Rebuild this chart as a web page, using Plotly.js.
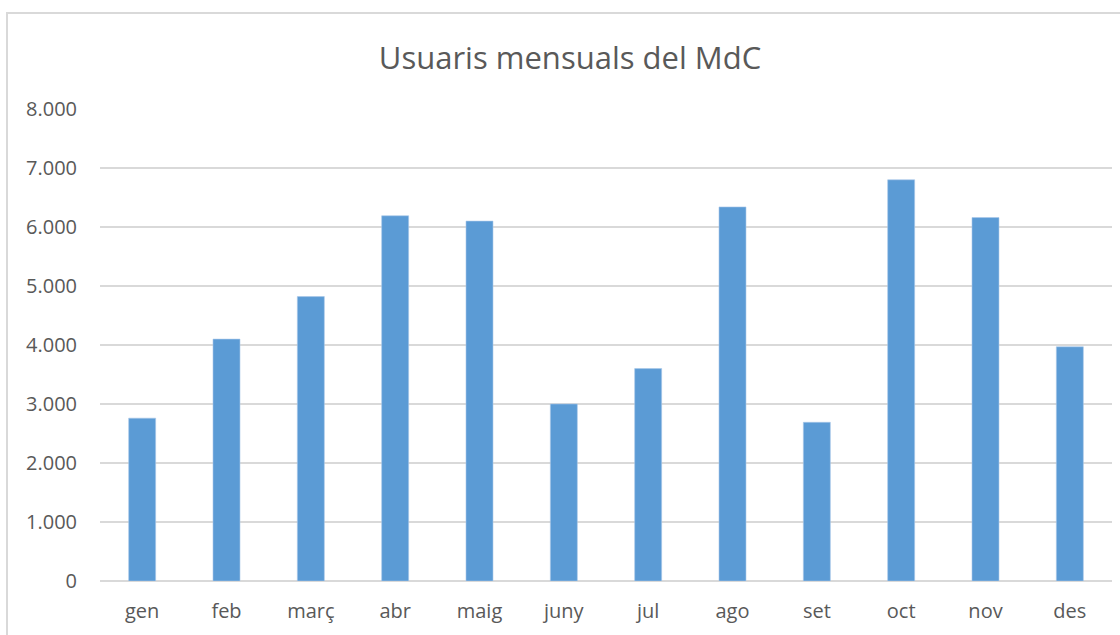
<!DOCTYPE html>
<html>
<head>
<meta charset="utf-8">
<script src="https://cdn.plot.ly/plotly-3.0.1.min.js"></script>
<style>
html,body{margin:0;padding:0;background:#fff;overflow:hidden;}
#wrap{position:relative;width:1120px;height:635px;}
#chart{position:absolute;left:0;top:0;width:1120px;height:635px;}
#frame{position:absolute;left:6px;top:12px;width:1200px;height:700px;border-left:2px solid #d9d9d9;border-top:2px solid #d9d9d9;pointer-events:none;}
</style>
</head>
<body>
<div id="wrap"><div id="chart"></div><div id="frame"></div></div>
<script>
const months = ["gen","feb","març","abr","maig","juny","jul","ago","set","oct","nov","des"];
const users = [2760, 4100, 4820, 6190, 6100, 3000, 3600, 6340, 2690, 6800, 6160, 3970];
const yTicks = [0,1000,2000,3000,4000,5000,6000,7000,8000];
const chartTitle = "Usuaris mensuals del MdC";

const trace = {
  type: "bar",
  x: months,
  y: users,
  marker: {color: "#5b9bd5", line: {color: "#a9c8ea", width: 0.6}},
  hoverinfo: "x+y"
};

const layout = {
  width: 1120, height: 635,
  paper_bgcolor: "rgba(0,0,0,0)",
  plot_bgcolor: "rgba(0,0,0,0)",
  separators: ",.",
  margin: {l: 100, r: 8, t: 109, b: 54},
  bargap: 0.68,
  showlegend: false,
  font: {family: "Open Sans, sans-serif", color: "#595959", size: 20},
  title: {
    text: chartTitle,
    font: {family: "Open Sans, sans-serif", size: 31, color: "#595959"},
    x: 570/1120, xref: "container", xanchor: "center",
    y: 1 - 58/635, yref: "container", yanchor: "middle"
  },
  xaxis: {
    type: "category",
    showgrid: false,
    showline: false,
    zeroline: false,
    ticks: "",
    ticklabelstandoff: 16,
    tickfont: {size: 20, color: "#595959"}
  },
  yaxis: {
    range: [0, 8000],
    tickvals: yTicks,
    tickformat: ",d",
    showgrid: true,
    gridcolor: "#d9d9d9",
    gridwidth: 2,
    zeroline: true,
    zerolinecolor: "#d9d9d9",
    zerolinewidth: 2,
    showline: false,
    ticks: "",
    ticklabelstandoff: 22,
    tickfont: {size: 20, color: "#595959"},
    fixedrange: true
  }
};

Plotly.newPlot("chart", [trace], layout, {displayModeBar: false, staticPlot: false});
</script>
</body>
</html>
